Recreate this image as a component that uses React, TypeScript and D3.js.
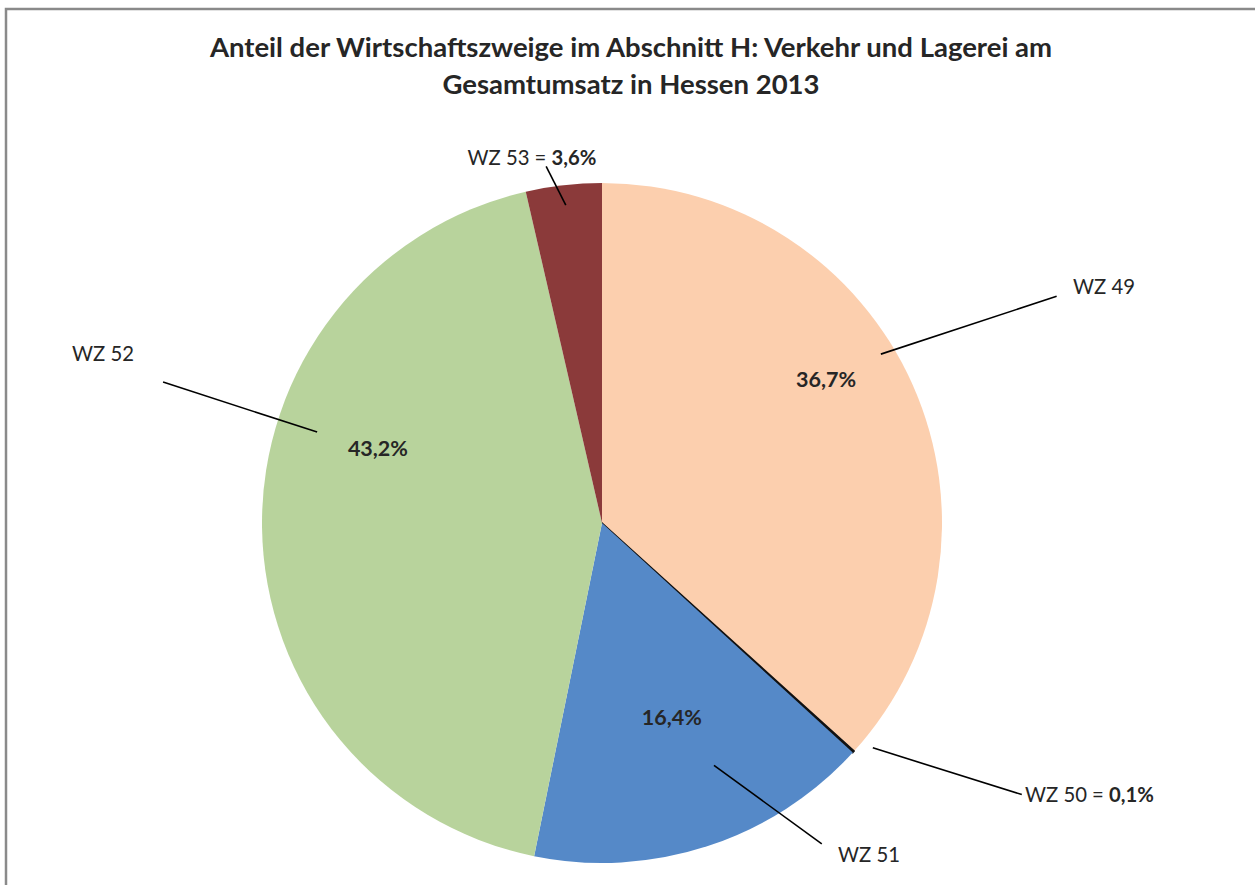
import React, { useEffect, useRef } from "react";
import * as d3 from "d3";

// Umsatzanteile je Wirtschaftszweig (Prozent)
const branches = ["WZ 49", "WZ 50", "WZ 51", "WZ 52", "WZ 53"];
const shares = [36.7, 0.1, 16.4, 43.2, 3.6];
const shareLabels = ["36,7%", "0,1%", "16,4%", "43,2%", "3,6%"];
const colors = ["#FCCFAE", "#111111", "#5589C8", "#B8D39C", "#8B3A3A"];

const titleLines = [
  "Anteil der Wirtschaftszweige im Abschnitt H: Verkehr und Lagerei am",
  "Gesamtumsatz in Hessen 2013",
];

const W = 1255;
const H = 885;
const cx = 602;
const cy = 523;
const R = 340;
const FONT = "Lato, 'Open Sans', sans-serif";
const TEXT = "#262626";

// label placement in polar terms around the pie centre (deg clockwise from 12 o'clock)
// inner = leader start, outer = leader end, text = where the category label sits
const layout = [
  { pct: [57.4, 266], inner: [58.8, 326], outer: [63.5, 508], text: [1073, 287], anchor: "start", inline: false },
  { pct: null, inner: [129.7, 352], outer: [122.9, 500], text: [1025, 795], anchor: "start", inline: true },
  { pct: [160.3, 207], inner: [155.2, 267], outer: [145.6, 389], text: [838, 855], anchor: "start", inline: false },
  { pct: [288.3, 236], inner: [287.7, 299], outer: [287.8, 461], text: [72, 354], anchor: "start", inline: false },
  { pct: null, inner: [353.5, 320], outer: [351.1, 361], text: [532, 158], anchor: "middle", inline: true },
];

function polar(a: number, r: number): [number, number] {
  const t = (a * Math.PI) / 180;
  return [cx + r * Math.sin(t), cy - r * Math.cos(t)];
}

export default function App() {
  const ref = useRef<SVGSVGElement>(null);

  useEffect(() => {
    const svg = d3.select(ref.current);
    svg.selectAll("*").remove();

    svg.append("rect").attr("width", W).attr("height", H).attr("fill", "#fff");

    // chart frame (runs off the right and bottom edge)
    svg
      .append("rect")
      .attr("x", 6)
      .attr("y", 9)
      .attr("width", W + 20)
      .attr("height", H + 20)
      .attr("fill", "none")
      .attr("stroke", "#8a8a8a")
      .attr("stroke-width", 2.5);

    // title
    svg
      .append("g")
      .selectAll("text")
      .data(titleLines)
      .enter()
      .append("text")
      .attr("x", 631)
      .attr("y", (d, i) => 57 + i * 37)
      .attr("text-anchor", "middle")
      .attr("font-family", FONT)
      .attr("font-weight", "bold")
      .attr("font-size", 27.5)
      .attr("fill", TEXT)
      .text((d) => d);

    const pie = d3
      .pie<number>()
      .sort(null)
      .value((d) => d);
    const arcs = pie(shares);
    const arc = d3.arc<d3.PieArcDatum<number>>().innerRadius(0).outerRadius(R);

    const g = svg.append("g").attr("transform", `translate(${cx},${cy})`);
    g.selectAll("path")
      .data(arcs)
      .enter()
      .append("path")
      .attr("d", arc)
      .attr("fill", (d, i) => colors[i])
      .attr("stroke", (d, i) => (shares[i] < 1 ? colors[i] : "none"))
      .attr("stroke-width", 1.5);

    // percentage labels inside slices
    const pctG = svg.append("g");
    arcs.forEach((a, i) => {
      const l = layout[i];
      if (!l.pct) return;
      const [x, y] = polar(l.pct[0], l.pct[1]);
      pctG
        .append("text")
        .attr("x", x)
        .attr("y", y)
        .attr("dy", "0.35em")
        .attr("text-anchor", "middle")
        .attr("font-family", FONT)
        .attr("font-weight", "bold")
        .attr("font-size", 21.5)
        .attr("fill", TEXT)
        .text(shareLabels[i]);
    });

    // leader lines and category labels
    const lab = svg.append("g");
    branches.forEach((b, i) => {
      const l = layout[i];
      const p1 = polar(l.inner[0], l.inner[1]);
      const p2 = polar(l.outer[0], l.outer[1]);
      lab
        .append("line")
        .attr("x1", p1[0])
        .attr("y1", p1[1])
        .attr("x2", p2[0])
        .attr("y2", p2[1])
        .attr("stroke", "#000")
        .attr("stroke-width", 1.6);
      const t = lab
        .append("text")
        .attr("x", l.text[0])
        .attr("y", l.text[1])
        .attr("dy", "0.35em")
        .attr("text-anchor", l.anchor)
        .attr("font-family", FONT)
        .attr("font-size", 20.3)
        .attr("fill", TEXT);
      if (l.inline) {
        t.append("tspan").text(b + " = ");
        t.append("tspan").attr("font-weight", "bold").text(shareLabels[i]);
      } else {
        t.text(b);
      }
    });
  }, []);

  return (
    <svg
      ref={ref}
      width={W}
      height={H}
      style={{ position: "fixed", left: 0, top: 0, display: "block" }}
    />
  );
}
